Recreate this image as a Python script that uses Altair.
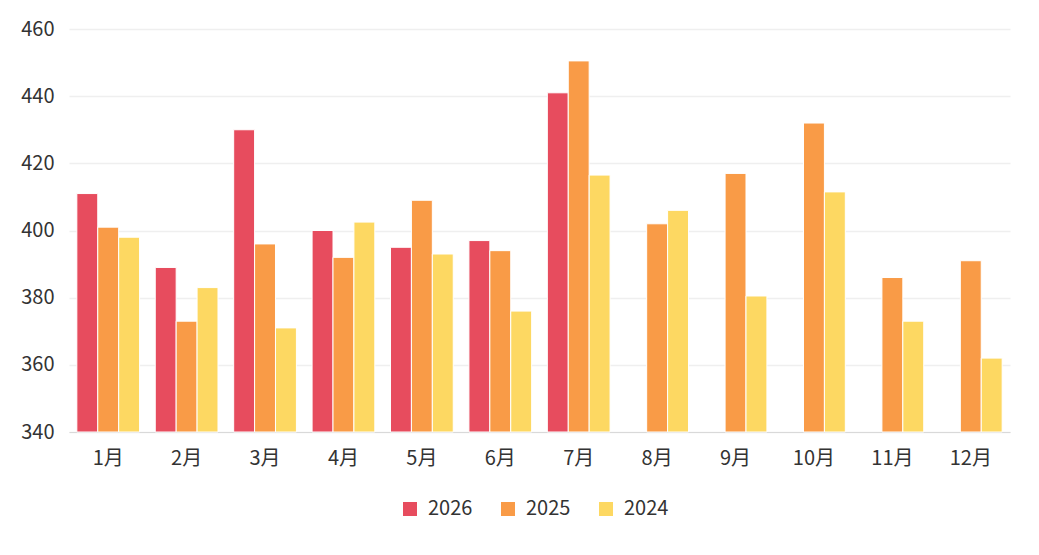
import altair as alt
import pandas as pd

months = ["1月", "2月", "3月", "4月", "5月", "6月", "7月", "8月", "9月", "10月", "11月", "12月"]
years = ["2026", "2025", "2024"]
v2026 = [411, 389, 430, 400, 395, 397, 441, None, None, None, None, None]
v2025 = [401, 373, 396, 392, 409, 394, 450.5, 402, 417, 432, 386, 391]
v2024 = [398, 383, 371, 402.5, 393, 376, 416.5, 406, 380.5, 411.5, 373, 362]
colors = ["#E74C5E", "#F99B47", "#FDD862"]

rows = []
for year, vals in zip(years, [v2026, v2025, v2024]):
    for m, v in zip(months, vals):
        if v is not None:
            rows.append({"month": m, "year": year, "value": v})
df = pd.DataFrame(rows)

font = "Noto Sans CJK SC"

chart = (
    alt.Chart(df)
    .mark_bar(stroke="white", strokeWidth=1)
    .encode(
        x=alt.X(
            "month:N",
            sort=months,
            title=None,
            scale=alt.Scale(paddingInner=0.2, paddingOuter=0.1),
            axis=alt.Axis(
                labelAngle=0,
                ticks=False,
                domainColor="#d9d9d9",
                labelPadding=16,
            ),
        ),
        xOffset=alt.XOffset("year:N", sort=years, scale=alt.Scale(domain=years)),
        y=alt.Y(
            "value:Q",
            title=None,
            scale=alt.Scale(domain=[340, 460], zero=False, nice=False),
            axis=alt.Axis(
                values=[340, 360, 380, 400, 420, 440, 460],
                ticks=False,
                domain=False,
                gridColor="#efefef",
                gridWidth=1.5,
                labelPadding=15,
            ),
        ),
        y2=alt.datum(340),
        color=alt.Color(
            "year:N",
            sort=years,
            scale=alt.Scale(domain=years, range=colors),
            legend=alt.Legend(
                title=None,
                orient="none",
                direction="horizontal",
                legendX=331,
                legendY=470,
                symbolType="square",
                symbolSize=196,
                symbolStrokeWidth=0,
                columnPadding=25,
                labelOffset=8,
            ),
        ),
    )
    .properties(
        width=941,
        height=403,
        autosize=alt.AutoSizeParams(type="none"),
        padding={"left": 61, "top": 21, "right": 20, "bottom": 110},
    )
    .configure(font=font)
    .configure_axis(labelFontSize=20, labelColor="#333333", labelFont=font)
    .configure_legend(labelFontSize=20, labelColor="#333333", labelFont=font)
    .configure_view(stroke=None)
)

chart.save("out.html", embed_options={"renderer": "svg", "actions": False})
